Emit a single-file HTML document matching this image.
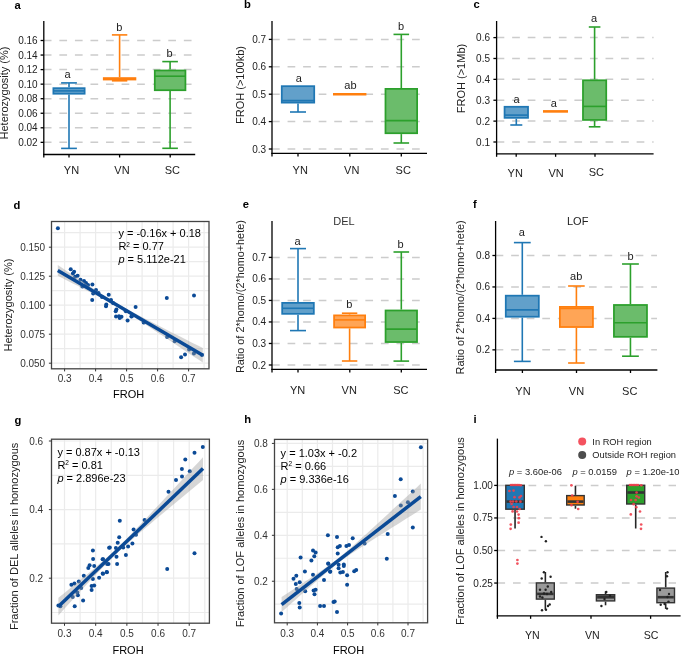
<!DOCTYPE html>
<html><head><meta charset="utf-8"><style>
html,body{margin:0;padding:0;background:#fff;}
svg{display:block;will-change:transform;font-family:"Liberation Sans", sans-serif;}
</style></head><body>
<svg width="685" height="655" viewBox="0 0 685 655">
<rect width="685" height="655" fill="#fff"/>
<text x="14.50" y="8.80" font-size="11.2" text-anchor="start" fill="#000" font-weight="bold" >a</text>
<line x1="43.80" y1="142.35" x2="191.80" y2="142.35" stroke="#cccccc" stroke-width="1.5" stroke-dasharray="7.7 7.86"/>
<line x1="43.80" y1="127.80" x2="191.80" y2="127.80" stroke="#cccccc" stroke-width="1.5" stroke-dasharray="7.7 7.86"/>
<line x1="43.80" y1="113.25" x2="191.80" y2="113.25" stroke="#cccccc" stroke-width="1.5" stroke-dasharray="7.7 7.86"/>
<line x1="43.80" y1="98.70" x2="191.80" y2="98.70" stroke="#cccccc" stroke-width="1.5" stroke-dasharray="7.7 7.86"/>
<line x1="43.80" y1="84.15" x2="191.80" y2="84.15" stroke="#cccccc" stroke-width="1.5" stroke-dasharray="7.7 7.86"/>
<line x1="43.80" y1="69.60" x2="191.80" y2="69.60" stroke="#cccccc" stroke-width="1.5" stroke-dasharray="7.7 7.86"/>
<line x1="43.80" y1="55.05" x2="191.80" y2="55.05" stroke="#cccccc" stroke-width="1.5" stroke-dasharray="7.7 7.86"/>
<line x1="43.80" y1="40.50" x2="191.80" y2="40.50" stroke="#cccccc" stroke-width="1.5" stroke-dasharray="7.7 7.86"/>
<line x1="43.80" y1="21.00" x2="43.80" y2="155.10" stroke="#000" stroke-width="1.3" />
<line x1="43.15" y1="154.50" x2="195.20" y2="154.50" stroke="#000" stroke-width="1.3" />
<line x1="43.80" y1="154.50" x2="43.80" y2="157.50" stroke="#000" stroke-width="1.3" />
<line x1="40.60" y1="142.35" x2="43.80" y2="142.35" stroke="#000" stroke-width="1.3" />
<text x="37.60" y="145.85" font-size="10" text-anchor="end" fill="#222" font-weight="normal" >0.02</text>
<line x1="40.60" y1="127.80" x2="43.80" y2="127.80" stroke="#000" stroke-width="1.3" />
<text x="37.60" y="131.30" font-size="10" text-anchor="end" fill="#222" font-weight="normal" >0.04</text>
<line x1="40.60" y1="113.25" x2="43.80" y2="113.25" stroke="#000" stroke-width="1.3" />
<text x="37.60" y="116.75" font-size="10" text-anchor="end" fill="#222" font-weight="normal" >0.06</text>
<line x1="40.60" y1="98.70" x2="43.80" y2="98.70" stroke="#000" stroke-width="1.3" />
<text x="37.60" y="102.20" font-size="10" text-anchor="end" fill="#222" font-weight="normal" >0.08</text>
<line x1="40.60" y1="84.15" x2="43.80" y2="84.15" stroke="#000" stroke-width="1.3" />
<text x="37.60" y="87.65" font-size="10" text-anchor="end" fill="#222" font-weight="normal" >0.10</text>
<line x1="40.60" y1="69.60" x2="43.80" y2="69.60" stroke="#000" stroke-width="1.3" />
<text x="37.60" y="73.10" font-size="10" text-anchor="end" fill="#222" font-weight="normal" >0.12</text>
<line x1="40.60" y1="55.05" x2="43.80" y2="55.05" stroke="#000" stroke-width="1.3" />
<text x="37.60" y="58.55" font-size="10" text-anchor="end" fill="#222" font-weight="normal" >0.14</text>
<line x1="40.60" y1="40.50" x2="43.80" y2="40.50" stroke="#000" stroke-width="1.3" />
<text x="37.60" y="44.00" font-size="10" text-anchor="end" fill="#222" font-weight="normal" >0.16</text>
<line x1="69.00" y1="154.50" x2="69.00" y2="157.50" stroke="#000" stroke-width="1.3" />
<text x="71.50" y="174.20" font-size="11" text-anchor="middle" fill="#222" font-weight="normal" >YN</text>
<line x1="119.60" y1="154.50" x2="119.60" y2="157.50" stroke="#000" stroke-width="1.3" />
<text x="122.00" y="174.20" font-size="11" text-anchor="middle" fill="#222" font-weight="normal" >VN</text>
<line x1="170.20" y1="154.50" x2="170.20" y2="157.50" stroke="#000" stroke-width="1.3" />
<text x="172.30" y="174.20" font-size="11" text-anchor="middle" fill="#222" font-weight="normal" >SC</text>
<text transform="translate(7.90,93.00) rotate(-90)" font-size="11" text-anchor="middle" fill="#222">Heterozygosity (%)</text>
<line x1="69.00" y1="82.90" x2="69.00" y2="87.30" stroke="#1f77b4" stroke-width="1.6" />
<line x1="61.10" y1="82.90" x2="76.90" y2="82.90" stroke="#1f77b4" stroke-width="1.6" />
<line x1="69.00" y1="94.60" x2="69.00" y2="148.40" stroke="#1f77b4" stroke-width="1.6" />
<line x1="61.10" y1="148.40" x2="76.90" y2="148.40" stroke="#1f77b4" stroke-width="1.6" />
<rect x="53.38" y="88.17" width="31.25" height="5.55" fill="#62a0ca" stroke="#1f77b4" stroke-width="1.75" />
<line x1="53.38" y1="90.90" x2="84.62" y2="90.90" stroke="#1f77b4" stroke-width="1.6" />
<line x1="119.60" y1="34.90" x2="119.60" y2="77.20" stroke="#ff7f0e" stroke-width="1.6" />
<line x1="111.90" y1="34.90" x2="127.30" y2="34.90" stroke="#ff7f0e" stroke-width="1.6" />
<line x1="119.60" y1="80.40" x2="119.60" y2="80.80" stroke="#ff7f0e" stroke-width="1.6" />
<line x1="111.90" y1="80.80" x2="127.30" y2="80.80" stroke="#ff7f0e" stroke-width="1.6" />
<rect x="103.77" y="78.08" width="31.65" height="1.45" fill="#ffa556" stroke="#ff7f0e" stroke-width="1.75" />
<line x1="103.77" y1="78.80" x2="135.42" y2="78.80" stroke="#ff7f0e" stroke-width="1.6" />
<line x1="170.10" y1="61.60" x2="170.10" y2="69.60" stroke="#2ca02c" stroke-width="1.6" />
<line x1="162.30" y1="61.60" x2="177.90" y2="61.60" stroke="#2ca02c" stroke-width="1.6" />
<line x1="170.10" y1="91.10" x2="170.10" y2="148.30" stroke="#2ca02c" stroke-width="1.6" />
<line x1="162.30" y1="148.30" x2="177.90" y2="148.30" stroke="#2ca02c" stroke-width="1.6" />
<rect x="154.78" y="70.47" width="30.65" height="19.75" fill="#6bbc6b" stroke="#2ca02c" stroke-width="1.75" />
<line x1="154.78" y1="76.20" x2="185.42" y2="76.20" stroke="#2ca02c" stroke-width="1.6" />
<text x="67.50" y="78.10" font-size="11" text-anchor="middle" fill="#222" font-weight="normal" >a</text>
<text x="119.40" y="31.40" font-size="11" text-anchor="middle" fill="#222" font-weight="normal" >b</text>
<text x="169.60" y="56.60" font-size="11" text-anchor="middle" fill="#222" font-weight="normal" >b</text>
<text x="244.00" y="7.90" font-size="11.2" text-anchor="start" fill="#000" font-weight="bold" >b</text>
<line x1="272.00" y1="149.00" x2="420.00" y2="149.00" stroke="#cccccc" stroke-width="1.5" stroke-dasharray="7.7 7.86"/>
<line x1="272.00" y1="121.60" x2="420.00" y2="121.60" stroke="#cccccc" stroke-width="1.5" stroke-dasharray="7.7 7.86"/>
<line x1="272.00" y1="94.20" x2="420.00" y2="94.20" stroke="#cccccc" stroke-width="1.5" stroke-dasharray="7.7 7.86"/>
<line x1="272.00" y1="66.80" x2="420.00" y2="66.80" stroke="#cccccc" stroke-width="1.5" stroke-dasharray="7.7 7.86"/>
<line x1="272.00" y1="39.40" x2="420.00" y2="39.40" stroke="#cccccc" stroke-width="1.5" stroke-dasharray="7.7 7.86"/>
<line x1="272.00" y1="21.00" x2="272.00" y2="154.00" stroke="#000" stroke-width="1.3" />
<line x1="271.35" y1="153.40" x2="427.00" y2="153.40" stroke="#000" stroke-width="1.3" />
<line x1="272.00" y1="153.40" x2="272.00" y2="156.40" stroke="#000" stroke-width="1.3" />
<line x1="268.80" y1="149.00" x2="272.00" y2="149.00" stroke="#000" stroke-width="1.3" />
<text x="266.20" y="152.50" font-size="10" text-anchor="end" fill="#222" font-weight="normal" >0.3</text>
<line x1="268.80" y1="121.60" x2="272.00" y2="121.60" stroke="#000" stroke-width="1.3" />
<text x="266.20" y="125.10" font-size="10" text-anchor="end" fill="#222" font-weight="normal" >0.4</text>
<line x1="268.80" y1="94.20" x2="272.00" y2="94.20" stroke="#000" stroke-width="1.3" />
<text x="266.20" y="97.70" font-size="10" text-anchor="end" fill="#222" font-weight="normal" >0.5</text>
<line x1="268.80" y1="66.80" x2="272.00" y2="66.80" stroke="#000" stroke-width="1.3" />
<text x="266.20" y="70.30" font-size="10" text-anchor="end" fill="#222" font-weight="normal" >0.6</text>
<line x1="268.80" y1="39.40" x2="272.00" y2="39.40" stroke="#000" stroke-width="1.3" />
<text x="266.20" y="42.90" font-size="10" text-anchor="end" fill="#222" font-weight="normal" >0.7</text>
<line x1="298.00" y1="153.40" x2="298.00" y2="156.40" stroke="#000" stroke-width="1.3" />
<text x="300.20" y="174.40" font-size="11" text-anchor="middle" fill="#222" font-weight="normal" >YN</text>
<line x1="349.80" y1="153.40" x2="349.80" y2="156.40" stroke="#000" stroke-width="1.3" />
<text x="351.70" y="174.40" font-size="11" text-anchor="middle" fill="#222" font-weight="normal" >VN</text>
<line x1="401.30" y1="153.40" x2="401.30" y2="156.40" stroke="#000" stroke-width="1.3" />
<text x="403.20" y="174.40" font-size="11" text-anchor="middle" fill="#222" font-weight="normal" >SC</text>
<text transform="translate(243.50,85.00) rotate(-90)" font-size="11" text-anchor="middle" fill="#222">FROH (&gt;100kb)</text>
<line x1="298.00" y1="103.50" x2="298.00" y2="112.00" stroke="#1f77b4" stroke-width="1.6" />
<line x1="290.00" y1="112.00" x2="306.00" y2="112.00" stroke="#1f77b4" stroke-width="1.6" />
<rect x="281.77" y="86.17" width="32.45" height="16.45" fill="#62a0ca" stroke="#1f77b4" stroke-width="1.75" />
<line x1="281.77" y1="100.60" x2="314.23" y2="100.60" stroke="#1f77b4" stroke-width="1.6" />
<line x1="333.00" y1="94.20" x2="366.40" y2="94.20" stroke="#ff7f0e" stroke-width="2.6" />
<line x1="401.30" y1="34.40" x2="401.30" y2="88.00" stroke="#2ca02c" stroke-width="1.6" />
<line x1="393.50" y1="34.40" x2="409.10" y2="34.40" stroke="#2ca02c" stroke-width="1.6" />
<line x1="401.30" y1="134.10" x2="401.30" y2="143.00" stroke="#2ca02c" stroke-width="1.6" />
<line x1="393.50" y1="143.00" x2="409.10" y2="143.00" stroke="#2ca02c" stroke-width="1.6" />
<rect x="385.48" y="88.88" width="31.65" height="44.35" fill="#6bbc6b" stroke="#2ca02c" stroke-width="1.75" />
<line x1="385.48" y1="120.60" x2="417.12" y2="120.60" stroke="#2ca02c" stroke-width="1.6" />
<text x="298.80" y="82.20" font-size="11" text-anchor="middle" fill="#222" font-weight="normal" >a</text>
<text x="350.40" y="89.00" font-size="11" text-anchor="middle" fill="#222" font-weight="normal" >ab</text>
<text x="401.00" y="30.00" font-size="11" text-anchor="middle" fill="#222" font-weight="normal" >b</text>
<text x="473.50" y="7.90" font-size="11.2" text-anchor="start" fill="#000" font-weight="bold" >c</text>
<line x1="496.60" y1="142.00" x2="653.60" y2="142.00" stroke="#cccccc" stroke-width="1.5" stroke-dasharray="7.7 7.86"/>
<line x1="496.60" y1="121.12" x2="653.60" y2="121.12" stroke="#cccccc" stroke-width="1.5" stroke-dasharray="7.7 7.86"/>
<line x1="496.60" y1="100.24" x2="653.60" y2="100.24" stroke="#cccccc" stroke-width="1.5" stroke-dasharray="7.7 7.86"/>
<line x1="496.60" y1="79.36" x2="653.60" y2="79.36" stroke="#cccccc" stroke-width="1.5" stroke-dasharray="7.7 7.86"/>
<line x1="496.60" y1="58.48" x2="653.60" y2="58.48" stroke="#cccccc" stroke-width="1.5" stroke-dasharray="7.7 7.86"/>
<line x1="496.60" y1="37.60" x2="653.60" y2="37.60" stroke="#cccccc" stroke-width="1.5" stroke-dasharray="7.7 7.86"/>
<line x1="496.60" y1="21.00" x2="496.60" y2="154.40" stroke="#000" stroke-width="1.3" />
<line x1="495.95" y1="153.80" x2="653.60" y2="153.80" stroke="#000" stroke-width="1.3" />
<line x1="496.60" y1="153.80" x2="496.60" y2="156.80" stroke="#000" stroke-width="1.3" />
<line x1="493.40" y1="142.00" x2="496.60" y2="142.00" stroke="#000" stroke-width="1.3" />
<text x="490.00" y="145.50" font-size="10" text-anchor="end" fill="#222" font-weight="normal" >0.1</text>
<line x1="493.40" y1="121.12" x2="496.60" y2="121.12" stroke="#000" stroke-width="1.3" />
<text x="490.00" y="124.62" font-size="10" text-anchor="end" fill="#222" font-weight="normal" >0.2</text>
<line x1="493.40" y1="100.24" x2="496.60" y2="100.24" stroke="#000" stroke-width="1.3" />
<text x="490.00" y="103.74" font-size="10" text-anchor="end" fill="#222" font-weight="normal" >0.3</text>
<line x1="493.40" y1="79.36" x2="496.60" y2="79.36" stroke="#000" stroke-width="1.3" />
<text x="490.00" y="82.86" font-size="10" text-anchor="end" fill="#222" font-weight="normal" >0.4</text>
<line x1="493.40" y1="58.48" x2="496.60" y2="58.48" stroke="#000" stroke-width="1.3" />
<text x="490.00" y="61.98" font-size="10" text-anchor="end" fill="#222" font-weight="normal" >0.5</text>
<line x1="493.40" y1="37.60" x2="496.60" y2="37.60" stroke="#000" stroke-width="1.3" />
<text x="490.00" y="41.10" font-size="10" text-anchor="end" fill="#222" font-weight="normal" >0.6</text>
<line x1="516.20" y1="153.80" x2="516.20" y2="156.80" stroke="#000" stroke-width="1.3" />
<text x="515.20" y="176.60" font-size="11" text-anchor="middle" fill="#222" font-weight="normal" >YN</text>
<line x1="555.60" y1="153.80" x2="555.60" y2="156.80" stroke="#000" stroke-width="1.3" />
<text x="556.10" y="176.60" font-size="11" text-anchor="middle" fill="#222" font-weight="normal" >VN</text>
<line x1="595.00" y1="153.80" x2="595.00" y2="156.80" stroke="#000" stroke-width="1.3" />
<text x="596.40" y="175.80" font-size="11" text-anchor="middle" fill="#222" font-weight="normal" >SC</text>
<text transform="translate(465.00,78.50) rotate(-90)" font-size="11" text-anchor="middle" fill="#222">FROH (&gt;1Mb)</text>
<line x1="516.30" y1="118.70" x2="516.30" y2="125.00" stroke="#1f77b4" stroke-width="1.6" />
<line x1="510.30" y1="125.00" x2="522.30" y2="125.00" stroke="#1f77b4" stroke-width="1.6" />
<rect x="504.57" y="106.78" width="23.45" height="11.05" fill="#62a0ca" stroke="#1f77b4" stroke-width="1.75" />
<line x1="504.57" y1="115.10" x2="528.02" y2="115.10" stroke="#1f77b4" stroke-width="1.6" />
<line x1="543.00" y1="111.40" x2="568.00" y2="111.40" stroke="#ff7f0e" stroke-width="2.6" />
<line x1="594.60" y1="27.00" x2="594.60" y2="79.40" stroke="#2ca02c" stroke-width="1.6" />
<line x1="588.80" y1="27.00" x2="600.40" y2="27.00" stroke="#2ca02c" stroke-width="1.6" />
<line x1="594.60" y1="120.80" x2="594.60" y2="126.80" stroke="#2ca02c" stroke-width="1.6" />
<line x1="588.80" y1="126.80" x2="600.40" y2="126.80" stroke="#2ca02c" stroke-width="1.6" />
<rect x="582.98" y="80.28" width="23.25" height="39.65" fill="#6bbc6b" stroke="#2ca02c" stroke-width="1.75" />
<line x1="582.98" y1="106.40" x2="606.23" y2="106.40" stroke="#2ca02c" stroke-width="1.6" />
<text x="516.60" y="103.00" font-size="11" text-anchor="middle" fill="#222" font-weight="normal" >a</text>
<text x="553.70" y="107.00" font-size="11" text-anchor="middle" fill="#222" font-weight="normal" >a</text>
<text x="594.00" y="22.40" font-size="11" text-anchor="middle" fill="#222" font-weight="normal" >a</text>
<text x="242.70" y="208.30" font-size="11.2" text-anchor="start" fill="#000" font-weight="bold" >e</text>
<line x1="272.00" y1="365.00" x2="420.00" y2="365.00" stroke="#cccccc" stroke-width="1.5" stroke-dasharray="7.7 7.86"/>
<line x1="272.00" y1="343.48" x2="420.00" y2="343.48" stroke="#cccccc" stroke-width="1.5" stroke-dasharray="7.7 7.86"/>
<line x1="272.00" y1="321.96" x2="420.00" y2="321.96" stroke="#cccccc" stroke-width="1.5" stroke-dasharray="7.7 7.86"/>
<line x1="272.00" y1="300.44" x2="420.00" y2="300.44" stroke="#cccccc" stroke-width="1.5" stroke-dasharray="7.7 7.86"/>
<line x1="272.00" y1="278.92" x2="420.00" y2="278.92" stroke="#cccccc" stroke-width="1.5" stroke-dasharray="7.7 7.86"/>
<line x1="272.00" y1="257.40" x2="420.00" y2="257.40" stroke="#cccccc" stroke-width="1.5" stroke-dasharray="7.7 7.86"/>
<line x1="272.00" y1="221.00" x2="272.00" y2="370.00" stroke="#000" stroke-width="1.3" />
<line x1="271.35" y1="369.40" x2="427.00" y2="369.40" stroke="#000" stroke-width="1.3" />
<line x1="272.00" y1="369.40" x2="272.00" y2="372.40" stroke="#000" stroke-width="1.3" />
<line x1="268.80" y1="365.00" x2="272.00" y2="365.00" stroke="#000" stroke-width="1.3" />
<text x="266.20" y="368.50" font-size="10" text-anchor="end" fill="#222" font-weight="normal" >0.2</text>
<line x1="268.80" y1="343.48" x2="272.00" y2="343.48" stroke="#000" stroke-width="1.3" />
<text x="266.20" y="346.98" font-size="10" text-anchor="end" fill="#222" font-weight="normal" >0.3</text>
<line x1="268.80" y1="321.96" x2="272.00" y2="321.96" stroke="#000" stroke-width="1.3" />
<text x="266.20" y="325.46" font-size="10" text-anchor="end" fill="#222" font-weight="normal" >0.4</text>
<line x1="268.80" y1="300.44" x2="272.00" y2="300.44" stroke="#000" stroke-width="1.3" />
<text x="266.20" y="303.94" font-size="10" text-anchor="end" fill="#222" font-weight="normal" >0.5</text>
<line x1="268.80" y1="278.92" x2="272.00" y2="278.92" stroke="#000" stroke-width="1.3" />
<text x="266.20" y="282.42" font-size="10" text-anchor="end" fill="#222" font-weight="normal" >0.6</text>
<line x1="268.80" y1="257.40" x2="272.00" y2="257.40" stroke="#000" stroke-width="1.3" />
<text x="266.20" y="260.90" font-size="10" text-anchor="end" fill="#222" font-weight="normal" >0.7</text>
<line x1="298.00" y1="369.40" x2="298.00" y2="372.40" stroke="#000" stroke-width="1.3" />
<text x="297.60" y="394.40" font-size="11" text-anchor="middle" fill="#222" font-weight="normal" >YN</text>
<line x1="349.80" y1="369.40" x2="349.80" y2="372.40" stroke="#000" stroke-width="1.3" />
<text x="349.20" y="394.40" font-size="11" text-anchor="middle" fill="#222" font-weight="normal" >VN</text>
<line x1="401.30" y1="369.40" x2="401.30" y2="372.40" stroke="#000" stroke-width="1.3" />
<text x="400.90" y="394.40" font-size="11" text-anchor="middle" fill="#222" font-weight="normal" >SC</text>
<text transform="translate(243.90,296.60) rotate(-90)" font-size="10.85" text-anchor="middle" fill="#222">Ratio of 2*homo/(2*homo+hete)</text>
<text x="344.00" y="225.00" font-size="11" text-anchor="middle" fill="#333" font-weight="normal" >DEL</text>
<line x1="298.00" y1="248.60" x2="298.00" y2="302.00" stroke="#1f77b4" stroke-width="1.6" />
<line x1="290.00" y1="248.60" x2="306.00" y2="248.60" stroke="#1f77b4" stroke-width="1.6" />
<line x1="298.00" y1="314.70" x2="298.00" y2="330.60" stroke="#1f77b4" stroke-width="1.6" />
<line x1="290.00" y1="330.60" x2="306.00" y2="330.60" stroke="#1f77b4" stroke-width="1.6" />
<rect x="282.18" y="302.88" width="31.65" height="10.95" fill="#62a0ca" stroke="#1f77b4" stroke-width="1.75" />
<line x1="282.18" y1="308.30" x2="313.82" y2="308.30" stroke="#1f77b4" stroke-width="1.6" />
<line x1="349.60" y1="313.20" x2="349.60" y2="314.50" stroke="#ff7f0e" stroke-width="1.6" />
<line x1="341.90" y1="313.20" x2="357.30" y2="313.20" stroke="#ff7f0e" stroke-width="1.6" />
<line x1="349.60" y1="328.40" x2="349.60" y2="361.00" stroke="#ff7f0e" stroke-width="1.6" />
<line x1="341.90" y1="361.00" x2="357.30" y2="361.00" stroke="#ff7f0e" stroke-width="1.6" />
<rect x="334.08" y="315.38" width="31.05" height="12.15" fill="#ffa556" stroke="#ff7f0e" stroke-width="1.75" />
<line x1="334.08" y1="319.90" x2="365.12" y2="319.90" stroke="#ff7f0e" stroke-width="1.6" />
<line x1="401.30" y1="252.00" x2="401.30" y2="309.60" stroke="#2ca02c" stroke-width="1.6" />
<line x1="393.50" y1="252.00" x2="409.10" y2="252.00" stroke="#2ca02c" stroke-width="1.6" />
<line x1="401.30" y1="342.90" x2="401.30" y2="361.10" stroke="#2ca02c" stroke-width="1.6" />
<line x1="393.50" y1="361.10" x2="409.10" y2="361.10" stroke="#2ca02c" stroke-width="1.6" />
<rect x="385.57" y="310.48" width="31.45" height="31.55" fill="#6bbc6b" stroke="#2ca02c" stroke-width="1.75" />
<line x1="385.57" y1="329.10" x2="417.03" y2="329.10" stroke="#2ca02c" stroke-width="1.6" />
<text x="297.50" y="245.00" font-size="11" text-anchor="middle" fill="#222" font-weight="normal" >a</text>
<text x="349.30" y="308.00" font-size="11" text-anchor="middle" fill="#222" font-weight="normal" >b</text>
<text x="400.60" y="248.00" font-size="11" text-anchor="middle" fill="#222" font-weight="normal" >b</text>
<text x="472.90" y="208.10" font-size="11.2" text-anchor="start" fill="#000" font-weight="bold" >f</text>
<line x1="495.60" y1="349.85" x2="657.00" y2="349.85" stroke="#cccccc" stroke-width="1.5" stroke-dasharray="7.7 7.86"/>
<line x1="495.60" y1="318.40" x2="657.00" y2="318.40" stroke="#cccccc" stroke-width="1.5" stroke-dasharray="7.7 7.86"/>
<line x1="495.60" y1="286.95" x2="657.00" y2="286.95" stroke="#cccccc" stroke-width="1.5" stroke-dasharray="7.7 7.86"/>
<line x1="495.60" y1="255.50" x2="657.00" y2="255.50" stroke="#cccccc" stroke-width="1.5" stroke-dasharray="7.7 7.86"/>
<line x1="495.60" y1="221.00" x2="495.60" y2="370.60" stroke="#000" stroke-width="1.3" />
<line x1="494.95" y1="370.00" x2="657.40" y2="370.00" stroke="#000" stroke-width="1.3" />
<line x1="495.60" y1="370.00" x2="495.60" y2="373.00" stroke="#000" stroke-width="1.3" />
<line x1="492.40" y1="349.85" x2="495.60" y2="349.85" stroke="#000" stroke-width="1.3" />
<text x="490.00" y="353.35" font-size="10" text-anchor="end" fill="#222" font-weight="normal" >0.2</text>
<line x1="492.40" y1="318.40" x2="495.60" y2="318.40" stroke="#000" stroke-width="1.3" />
<text x="490.00" y="321.90" font-size="10" text-anchor="end" fill="#222" font-weight="normal" >0.4</text>
<line x1="492.40" y1="286.95" x2="495.60" y2="286.95" stroke="#000" stroke-width="1.3" />
<text x="490.00" y="290.45" font-size="10" text-anchor="end" fill="#222" font-weight="normal" >0.6</text>
<line x1="492.40" y1="255.50" x2="495.60" y2="255.50" stroke="#000" stroke-width="1.3" />
<text x="490.00" y="259.00" font-size="10" text-anchor="end" fill="#222" font-weight="normal" >0.8</text>
<line x1="522.40" y1="370.00" x2="522.40" y2="373.00" stroke="#000" stroke-width="1.3" />
<text x="523.00" y="394.60" font-size="11" text-anchor="middle" fill="#222" font-weight="normal" >YN</text>
<line x1="576.50" y1="370.00" x2="576.50" y2="373.00" stroke="#000" stroke-width="1.3" />
<text x="576.50" y="394.60" font-size="11" text-anchor="middle" fill="#222" font-weight="normal" >VN</text>
<line x1="630.50" y1="370.00" x2="630.50" y2="373.00" stroke="#000" stroke-width="1.3" />
<text x="629.70" y="394.60" font-size="11" text-anchor="middle" fill="#222" font-weight="normal" >SC</text>
<text transform="translate(464.30,297.40) rotate(-90)" font-size="10.95" text-anchor="middle" fill="#222">Ratio of 2*homo/(2*homo+hete)</text>
<text x="577.70" y="225.00" font-size="11" text-anchor="middle" fill="#222" font-weight="normal" >LOF</text>
<line x1="522.30" y1="242.60" x2="522.30" y2="294.80" stroke="#1f77b4" stroke-width="1.6" />
<line x1="513.90" y1="242.60" x2="530.70" y2="242.60" stroke="#1f77b4" stroke-width="1.6" />
<line x1="522.30" y1="317.60" x2="522.30" y2="361.40" stroke="#1f77b4" stroke-width="1.6" />
<line x1="513.90" y1="361.40" x2="530.70" y2="361.40" stroke="#1f77b4" stroke-width="1.6" />
<rect x="505.77" y="295.68" width="33.05" height="21.05" fill="#62a0ca" stroke="#1f77b4" stroke-width="1.75" />
<line x1="505.77" y1="309.90" x2="538.82" y2="309.90" stroke="#1f77b4" stroke-width="1.6" />
<line x1="576.40" y1="286.00" x2="576.40" y2="306.00" stroke="#ff7f0e" stroke-width="1.6" />
<line x1="568.10" y1="286.00" x2="584.70" y2="286.00" stroke="#ff7f0e" stroke-width="1.6" />
<line x1="576.40" y1="327.90" x2="576.40" y2="363.00" stroke="#ff7f0e" stroke-width="1.6" />
<line x1="568.10" y1="363.00" x2="584.70" y2="363.00" stroke="#ff7f0e" stroke-width="1.6" />
<rect x="559.88" y="306.88" width="33.05" height="20.15" fill="#ffa556" stroke="#ff7f0e" stroke-width="1.75" />
<line x1="559.88" y1="308.50" x2="592.92" y2="308.50" stroke="#ff7f0e" stroke-width="1.6" />
<line x1="630.45" y1="264.00" x2="630.45" y2="304.10" stroke="#2ca02c" stroke-width="1.6" />
<line x1="622.05" y1="264.00" x2="638.85" y2="264.00" stroke="#2ca02c" stroke-width="1.6" />
<line x1="630.45" y1="337.70" x2="630.45" y2="356.20" stroke="#2ca02c" stroke-width="1.6" />
<line x1="622.05" y1="356.20" x2="638.85" y2="356.20" stroke="#2ca02c" stroke-width="1.6" />
<rect x="613.93" y="304.98" width="33.05" height="31.85" fill="#6bbc6b" stroke="#2ca02c" stroke-width="1.75" />
<line x1="613.93" y1="322.80" x2="646.98" y2="322.80" stroke="#2ca02c" stroke-width="1.6" />
<text x="521.80" y="236.00" font-size="11" text-anchor="middle" fill="#222" font-weight="normal" >a</text>
<text x="576.20" y="280.00" font-size="11" text-anchor="middle" fill="#222" font-weight="normal" >ab</text>
<text x="630.50" y="260.00" font-size="11" text-anchor="middle" fill="#222" font-weight="normal" >b</text>
<text x="13.60" y="209.40" font-size="11.2" text-anchor="start" fill="#000" font-weight="bold" >d</text>
<line x1="80.10" y1="221.50" x2="80.10" y2="368.80" stroke="#ebebeb" stroke-width="1.2" />
<line x1="111.10" y1="221.50" x2="111.10" y2="368.80" stroke="#ebebeb" stroke-width="1.2" />
<line x1="142.10" y1="221.50" x2="142.10" y2="368.80" stroke="#ebebeb" stroke-width="1.2" />
<line x1="173.10" y1="221.50" x2="173.10" y2="368.80" stroke="#ebebeb" stroke-width="1.2" />
<line x1="204.10" y1="221.50" x2="204.10" y2="368.80" stroke="#ebebeb" stroke-width="1.2" />
<line x1="51.50" y1="348.70" x2="209.00" y2="348.70" stroke="#ebebeb" stroke-width="1.2" />
<line x1="51.50" y1="319.70" x2="209.00" y2="319.70" stroke="#ebebeb" stroke-width="1.2" />
<line x1="51.50" y1="290.70" x2="209.00" y2="290.70" stroke="#ebebeb" stroke-width="1.2" />
<line x1="51.50" y1="261.70" x2="209.00" y2="261.70" stroke="#ebebeb" stroke-width="1.2" />
<line x1="51.50" y1="232.70" x2="209.00" y2="232.70" stroke="#ebebeb" stroke-width="1.2" />
<line x1="64.60" y1="221.50" x2="64.60" y2="368.80" stroke="#ebebeb" stroke-width="1.2" />
<line x1="95.60" y1="221.50" x2="95.60" y2="368.80" stroke="#ebebeb" stroke-width="1.2" />
<line x1="126.60" y1="221.50" x2="126.60" y2="368.80" stroke="#ebebeb" stroke-width="1.2" />
<line x1="157.60" y1="221.50" x2="157.60" y2="368.80" stroke="#ebebeb" stroke-width="1.2" />
<line x1="188.60" y1="221.50" x2="188.60" y2="368.80" stroke="#ebebeb" stroke-width="1.2" />
<line x1="51.50" y1="363.20" x2="209.00" y2="363.20" stroke="#ebebeb" stroke-width="1.2" />
<line x1="51.50" y1="334.20" x2="209.00" y2="334.20" stroke="#ebebeb" stroke-width="1.2" />
<line x1="51.50" y1="305.20" x2="209.00" y2="305.20" stroke="#ebebeb" stroke-width="1.2" />
<line x1="51.50" y1="276.20" x2="209.00" y2="276.20" stroke="#ebebeb" stroke-width="1.2" />
<line x1="51.50" y1="247.20" x2="209.00" y2="247.20" stroke="#ebebeb" stroke-width="1.2" />
<circle cx="57.90" cy="228.20" r="2.0" fill="#0b4a96" />
<circle cx="70.70" cy="269.30" r="2.0" fill="#0b4a96" />
<circle cx="74.10" cy="271.70" r="2.0" fill="#0b4a96" />
<circle cx="72.90" cy="273.50" r="2.0" fill="#0b4a96" />
<circle cx="77.60" cy="275.70" r="2.0" fill="#0b4a96" />
<circle cx="75.10" cy="276.80" r="2.0" fill="#0b4a96" />
<circle cx="80.50" cy="279.70" r="2.0" fill="#0b4a96" />
<circle cx="82.40" cy="286.50" r="2.0" fill="#0b4a96" />
<circle cx="92.40" cy="284.50" r="2.0" fill="#0b4a96" />
<circle cx="93.20" cy="293.50" r="2.0" fill="#0b4a96" />
<circle cx="92.20" cy="300.10" r="2.0" fill="#0b4a96" />
<circle cx="98.50" cy="293.00" r="2.0" fill="#0b4a96" />
<circle cx="102.00" cy="297.00" r="2.0" fill="#0b4a96" />
<circle cx="108.70" cy="294.80" r="2.0" fill="#0b4a96" />
<circle cx="106.30" cy="304.60" r="2.0" fill="#0b4a96" />
<circle cx="106.00" cy="306.20" r="2.0" fill="#0b4a96" />
<circle cx="116.40" cy="309.50" r="2.0" fill="#0b4a96" />
<circle cx="115.70" cy="311.30" r="2.0" fill="#0b4a96" />
<circle cx="116.00" cy="316.40" r="2.0" fill="#0b4a96" />
<circle cx="119.00" cy="316.20" r="2.0" fill="#0b4a96" />
<circle cx="121.50" cy="316.80" r="2.0" fill="#0b4a96" />
<circle cx="119.70" cy="318.00" r="2.0" fill="#0b4a96" />
<circle cx="127.60" cy="320.40" r="2.0" fill="#0b4a96" />
<circle cx="135.60" cy="307.00" r="2.0" fill="#0b4a96" />
<circle cx="125.80" cy="311.30" r="2.0" fill="#0b4a96" />
<circle cx="131.90" cy="316.20" r="2.0" fill="#0b4a96" />
<circle cx="144.10" cy="322.30" r="2.0" fill="#0b4a96" />
<circle cx="131.40" cy="316.40" r="2.0" fill="#0b4a96" />
<circle cx="143.70" cy="322.60" r="2.0" fill="#0b4a96" />
<circle cx="166.80" cy="298.10" r="2.0" fill="#0b4a96" />
<circle cx="194.00" cy="295.50" r="2.0" fill="#0b4a96" />
<circle cx="167.10" cy="337.00" r="2.0" fill="#0b4a96" />
<circle cx="174.70" cy="341.20" r="2.0" fill="#0b4a96" />
<circle cx="181.10" cy="357.30" r="2.0" fill="#0b4a96" />
<circle cx="185.00" cy="354.60" r="2.0" fill="#0b4a96" />
<circle cx="189.10" cy="349.40" r="2.0" fill="#0b4a96" />
<circle cx="193.90" cy="353.50" r="2.0" fill="#0b4a96" />
<circle cx="202.00" cy="355.00" r="2.0" fill="#0b4a96" />
<circle cx="86.00" cy="283.00" r="2.0" fill="#0b4a96" />
<circle cx="88.00" cy="285.00" r="2.0" fill="#0b4a96" />
<circle cx="96.00" cy="290.00" r="2.0" fill="#0b4a96" />
<circle cx="111.00" cy="300.00" r="2.0" fill="#0b4a96" />
<circle cx="113.00" cy="303.00" r="2.0" fill="#0b4a96" />
<circle cx="84.00" cy="281.00" r="2.0" fill="#0b4a96" />
<path d="M57.80,265.00 L62.63,268.22 L67.47,271.44 L72.30,274.65 L77.13,277.85 L81.97,281.05 L86.80,284.24 L91.63,287.41 L96.47,290.57 L101.30,293.69 L106.13,296.78 L110.97,299.80 L115.80,302.74 L120.63,305.58 L125.47,308.32 L130.30,310.97 L135.13,313.56 L139.97,316.10 L144.80,318.61 L149.63,321.10 L154.47,323.57 L159.30,326.04 L164.13,328.49 L168.97,330.94 L173.80,333.39 L178.63,335.83 L183.47,338.27 L188.30,340.70 L193.13,343.14 L197.97,345.57 L202.80,348.00 L202.80,362.60 L197.97,359.37 L193.13,356.14 L188.30,352.92 L183.47,349.69 L178.63,346.47 L173.80,343.25 L168.97,340.04 L164.13,336.83 L159.30,333.62 L154.47,330.43 L149.63,327.24 L144.80,324.07 L139.97,320.92 L135.13,317.80 L130.30,314.73 L125.47,311.72 L120.63,308.80 L115.80,305.98 L110.97,303.26 L106.13,300.62 L101.30,298.05 L96.47,295.51 L91.63,293.01 L86.80,290.52 L81.97,288.05 L77.13,285.59 L72.30,283.13 L67.47,280.68 L62.63,278.24 L57.80,275.80 Z" fill="#999999" fill-opacity="0.4"/>
<line x1="57.80" y1="270.40" x2="202.80" y2="355.30" stroke="#0b4a96" stroke-width="3.5" stroke-linecap="butt"/>
<rect x="51.50" y="221.50" width="157.50" height="147.30" fill="none" stroke="#444444" stroke-width="1.3" />
<line x1="48.90" y1="363.20" x2="51.50" y2="363.20" stroke="#333333" stroke-width="1.0" />
<text x="45.20" y="366.70" font-size="10" text-anchor="end" fill="#333" font-weight="normal" >0.050</text>
<line x1="48.90" y1="334.20" x2="51.50" y2="334.20" stroke="#333333" stroke-width="1.0" />
<text x="45.20" y="337.70" font-size="10" text-anchor="end" fill="#333" font-weight="normal" >0.075</text>
<line x1="48.90" y1="305.20" x2="51.50" y2="305.20" stroke="#333333" stroke-width="1.0" />
<text x="45.20" y="308.70" font-size="10" text-anchor="end" fill="#333" font-weight="normal" >0.100</text>
<line x1="48.90" y1="276.20" x2="51.50" y2="276.20" stroke="#333333" stroke-width="1.0" />
<text x="45.20" y="279.70" font-size="10" text-anchor="end" fill="#333" font-weight="normal" >0.125</text>
<line x1="48.90" y1="247.20" x2="51.50" y2="247.20" stroke="#333333" stroke-width="1.0" />
<text x="45.20" y="250.70" font-size="10" text-anchor="end" fill="#333" font-weight="normal" >0.150</text>
<line x1="64.60" y1="368.80" x2="64.60" y2="371.40" stroke="#333333" stroke-width="1.0" />
<text x="64.60" y="381.60" font-size="10" text-anchor="middle" fill="#333" font-weight="normal" >0.3</text>
<line x1="95.60" y1="368.80" x2="95.60" y2="371.40" stroke="#333333" stroke-width="1.0" />
<text x="95.60" y="381.60" font-size="10" text-anchor="middle" fill="#333" font-weight="normal" >0.4</text>
<line x1="126.60" y1="368.80" x2="126.60" y2="371.40" stroke="#333333" stroke-width="1.0" />
<text x="126.60" y="381.60" font-size="10" text-anchor="middle" fill="#333" font-weight="normal" >0.5</text>
<line x1="157.60" y1="368.80" x2="157.60" y2="371.40" stroke="#333333" stroke-width="1.0" />
<text x="157.60" y="381.60" font-size="10" text-anchor="middle" fill="#333" font-weight="normal" >0.6</text>
<line x1="188.60" y1="368.80" x2="188.60" y2="371.40" stroke="#333333" stroke-width="1.0" />
<text x="188.60" y="381.60" font-size="10" text-anchor="middle" fill="#333" font-weight="normal" >0.7</text>
<text x="118.40" y="236.90" font-size="11" text-anchor="start" fill="#000" font-weight="normal" >y = -0.16x + 0.18</text>
<text x="118.40" y="250.10" font-size="11" text-anchor="start" fill="#000" font-weight="normal" >R<tspan font-size="6.5" dy="-3.6">2</tspan><tspan dy="3.6"> = 0.77</tspan></text>
<text x="118.40" y="263.30" font-size="11" text-anchor="start" fill="#000" font-weight="normal" ><tspan font-style="italic">p</tspan> = 5.112e-21</text>
<text x="128.65" y="398.30" font-size="11" text-anchor="middle" fill="#000" font-weight="normal" >FROH</text>
<text transform="translate(12.10,305.05) rotate(-90)" font-size="11" text-anchor="middle" fill="#222">Heterozygosity (%)</text>
<text x="14.60" y="424.40" font-size="11.2" text-anchor="start" fill="#000" font-weight="bold" >g</text>
<line x1="80.09" y1="439.20" x2="80.09" y2="623.20" stroke="#ebebeb" stroke-width="1.2" />
<line x1="111.27" y1="439.20" x2="111.27" y2="623.20" stroke="#ebebeb" stroke-width="1.2" />
<line x1="142.45" y1="439.20" x2="142.45" y2="623.20" stroke="#ebebeb" stroke-width="1.2" />
<line x1="173.63" y1="439.20" x2="173.63" y2="623.20" stroke="#ebebeb" stroke-width="1.2" />
<line x1="204.81" y1="439.20" x2="204.81" y2="623.20" stroke="#ebebeb" stroke-width="1.2" />
<line x1="51.50" y1="612.50" x2="209.40" y2="612.50" stroke="#ebebeb" stroke-width="1.2" />
<line x1="51.50" y1="543.90" x2="209.40" y2="543.90" stroke="#ebebeb" stroke-width="1.2" />
<line x1="51.50" y1="475.30" x2="209.40" y2="475.30" stroke="#ebebeb" stroke-width="1.2" />
<line x1="64.50" y1="439.20" x2="64.50" y2="623.20" stroke="#ebebeb" stroke-width="1.2" />
<line x1="95.68" y1="439.20" x2="95.68" y2="623.20" stroke="#ebebeb" stroke-width="1.2" />
<line x1="126.86" y1="439.20" x2="126.86" y2="623.20" stroke="#ebebeb" stroke-width="1.2" />
<line x1="158.04" y1="439.20" x2="158.04" y2="623.20" stroke="#ebebeb" stroke-width="1.2" />
<line x1="189.22" y1="439.20" x2="189.22" y2="623.20" stroke="#ebebeb" stroke-width="1.2" />
<line x1="51.50" y1="578.20" x2="209.40" y2="578.20" stroke="#ebebeb" stroke-width="1.2" />
<line x1="51.50" y1="509.60" x2="209.40" y2="509.60" stroke="#ebebeb" stroke-width="1.2" />
<line x1="51.50" y1="441.00" x2="209.40" y2="441.00" stroke="#ebebeb" stroke-width="1.2" />
<circle cx="58.40" cy="605.60" r="2.0" fill="#0b4a96" />
<circle cx="60.40" cy="606.20" r="2.0" fill="#0b4a96" />
<circle cx="74.70" cy="606.20" r="2.0" fill="#0b4a96" />
<circle cx="83.10" cy="600.40" r="2.0" fill="#0b4a96" />
<circle cx="71.40" cy="584.80" r="2.0" fill="#0b4a96" />
<circle cx="74.40" cy="583.50" r="2.0" fill="#0b4a96" />
<circle cx="78.80" cy="581.60" r="2.0" fill="#0b4a96" />
<circle cx="72.70" cy="597.10" r="2.0" fill="#0b4a96" />
<circle cx="77.90" cy="595.20" r="2.0" fill="#0b4a96" />
<circle cx="77.30" cy="592.60" r="2.0" fill="#0b4a96" />
<circle cx="81.20" cy="588.00" r="2.0" fill="#0b4a96" />
<circle cx="83.80" cy="575.70" r="2.0" fill="#0b4a96" />
<circle cx="88.30" cy="567.90" r="2.0" fill="#0b4a96" />
<circle cx="89.60" cy="565.30" r="2.0" fill="#0b4a96" />
<circle cx="94.20" cy="566.00" r="2.0" fill="#0b4a96" />
<circle cx="92.90" cy="550.40" r="2.0" fill="#0b4a96" />
<circle cx="93.10" cy="559.10" r="2.0" fill="#0b4a96" />
<circle cx="92.90" cy="579.00" r="2.0" fill="#0b4a96" />
<circle cx="91.60" cy="586.10" r="2.0" fill="#0b4a96" />
<circle cx="94.20" cy="585.50" r="2.0" fill="#0b4a96" />
<circle cx="91.60" cy="590.00" r="2.0" fill="#0b4a96" />
<circle cx="99.10" cy="577.70" r="2.0" fill="#0b4a96" />
<circle cx="103.00" cy="573.80" r="2.0" fill="#0b4a96" />
<circle cx="106.90" cy="572.20" r="2.0" fill="#0b4a96" />
<circle cx="102.60" cy="559.20" r="2.0" fill="#0b4a96" />
<circle cx="109.10" cy="547.80" r="2.0" fill="#0b4a96" />
<circle cx="107.10" cy="564.00" r="2.0" fill="#0b4a96" />
<circle cx="119.80" cy="520.80" r="2.0" fill="#0b4a96" />
<circle cx="144.60" cy="520.10" r="2.0" fill="#0b4a96" />
<circle cx="133.60" cy="529.50" r="2.0" fill="#0b4a96" />
<circle cx="136.00" cy="534.80" r="2.0" fill="#0b4a96" />
<circle cx="119.20" cy="537.20" r="2.0" fill="#0b4a96" />
<circle cx="117.70" cy="542.70" r="2.0" fill="#0b4a96" />
<circle cx="132.40" cy="543.60" r="2.0" fill="#0b4a96" />
<circle cx="128.10" cy="546.40" r="2.0" fill="#0b4a96" />
<circle cx="109.80" cy="547.40" r="2.0" fill="#0b4a96" />
<circle cx="115.90" cy="547.90" r="2.0" fill="#0b4a96" />
<circle cx="123.20" cy="547.60" r="2.0" fill="#0b4a96" />
<circle cx="125.90" cy="554.90" r="2.0" fill="#0b4a96" />
<circle cx="116.50" cy="556.80" r="2.0" fill="#0b4a96" />
<circle cx="103.10" cy="559.20" r="2.0" fill="#0b4a96" />
<circle cx="108.50" cy="564.10" r="2.0" fill="#0b4a96" />
<circle cx="117.10" cy="564.10" r="2.0" fill="#0b4a96" />
<circle cx="106.70" cy="572.00" r="2.0" fill="#0b4a96" />
<circle cx="102.70" cy="573.60" r="2.0" fill="#0b4a96" />
<circle cx="167.20" cy="569.00" r="2.0" fill="#0b4a96" />
<circle cx="194.50" cy="553.20" r="2.0" fill="#0b4a96" />
<circle cx="202.80" cy="447.00" r="2.0" fill="#0b4a96" />
<circle cx="194.50" cy="452.70" r="2.0" fill="#0b4a96" />
<circle cx="185.30" cy="459.60" r="2.0" fill="#0b4a96" />
<circle cx="181.90" cy="469.00" r="2.0" fill="#0b4a96" />
<circle cx="189.80" cy="471.30" r="2.0" fill="#0b4a96" />
<circle cx="182.00" cy="476.40" r="2.0" fill="#0b4a96" />
<circle cx="176.00" cy="480.10" r="2.0" fill="#0b4a96" />
<circle cx="168.50" cy="491.80" r="2.0" fill="#0b4a96" />
<path d="M58.40,597.80 L63.22,593.88 L68.04,589.95 L72.86,586.01 L77.68,582.07 L82.50,578.11 L87.32,574.13 L92.14,570.13 L96.96,566.10 L101.78,562.00 L106.60,557.82 L111.42,553.50 L116.24,549.00 L121.06,544.32 L125.88,539.50 L130.70,534.57 L135.52,529.55 L140.34,524.48 L145.16,519.38 L149.98,514.25 L154.80,509.10 L159.62,503.93 L164.44,498.76 L169.26,493.58 L174.08,488.39 L178.90,483.20 L183.72,478.01 L188.54,472.81 L193.36,467.61 L198.18,462.40 L203.00,457.20 L203.00,480.00 L198.18,484.00 L193.36,487.99 L188.54,491.99 L183.72,495.99 L178.90,500.00 L174.08,504.01 L169.26,508.02 L164.44,512.04 L159.62,516.07 L154.80,520.10 L149.98,524.15 L145.16,528.22 L140.34,532.32 L135.52,536.45 L130.70,540.63 L125.88,544.90 L121.06,549.28 L116.24,553.80 L111.42,558.50 L106.60,563.38 L101.78,568.40 L96.96,573.50 L92.14,578.67 L87.32,583.87 L82.50,589.09 L77.68,594.33 L72.86,599.59 L68.04,604.85 L63.22,610.12 L58.40,615.40 Z" fill="#999999" fill-opacity="0.4"/>
<line x1="58.40" y1="606.60" x2="203.00" y2="468.60" stroke="#0b4a96" stroke-width="3.5" stroke-linecap="butt"/>
<rect x="51.50" y="439.20" width="157.90" height="184.00" fill="none" stroke="#444444" stroke-width="1.3" />
<line x1="48.90" y1="578.20" x2="51.50" y2="578.20" stroke="#333333" stroke-width="1.0" />
<text x="43.10" y="581.70" font-size="10" text-anchor="end" fill="#333" font-weight="normal" >0.2</text>
<line x1="48.90" y1="509.60" x2="51.50" y2="509.60" stroke="#333333" stroke-width="1.0" />
<text x="43.10" y="513.10" font-size="10" text-anchor="end" fill="#333" font-weight="normal" >0.4</text>
<line x1="48.90" y1="441.00" x2="51.50" y2="441.00" stroke="#333333" stroke-width="1.0" />
<text x="43.10" y="444.50" font-size="10" text-anchor="end" fill="#333" font-weight="normal" >0.6</text>
<line x1="64.50" y1="623.20" x2="64.50" y2="625.80" stroke="#333333" stroke-width="1.0" />
<text x="64.50" y="637.20" font-size="10" text-anchor="middle" fill="#333" font-weight="normal" >0.3</text>
<line x1="95.68" y1="623.20" x2="95.68" y2="625.80" stroke="#333333" stroke-width="1.0" />
<text x="95.68" y="637.20" font-size="10" text-anchor="middle" fill="#333" font-weight="normal" >0.4</text>
<line x1="126.86" y1="623.20" x2="126.86" y2="625.80" stroke="#333333" stroke-width="1.0" />
<text x="126.86" y="637.20" font-size="10" text-anchor="middle" fill="#333" font-weight="normal" >0.5</text>
<line x1="158.04" y1="623.20" x2="158.04" y2="625.80" stroke="#333333" stroke-width="1.0" />
<text x="158.04" y="637.20" font-size="10" text-anchor="middle" fill="#333" font-weight="normal" >0.6</text>
<line x1="189.22" y1="623.20" x2="189.22" y2="625.80" stroke="#333333" stroke-width="1.0" />
<text x="189.22" y="637.20" font-size="10" text-anchor="middle" fill="#333" font-weight="normal" >0.7</text>
<text x="57.40" y="455.80" font-size="11" text-anchor="start" fill="#000" font-weight="normal" >y = 0.87x + -0.13</text>
<text x="57.40" y="469.00" font-size="11" text-anchor="start" fill="#000" font-weight="normal" >R<tspan font-size="6.5" dy="-3.6">2</tspan><tspan dy="3.6"> = 0.81</tspan></text>
<text x="57.40" y="482.20" font-size="11" text-anchor="start" fill="#000" font-weight="normal" ><tspan font-style="italic">p</tspan> = 2.896e-23</text>
<text x="128.05" y="654.00" font-size="11" text-anchor="middle" fill="#000" font-weight="normal" >FROH</text>
<text transform="translate(17.50,536.40) rotate(-90)" font-size="11" text-anchor="middle" fill="#222">Fraction of DEL alleles in homozygous</text>
<text x="244.30" y="422.80" font-size="11.2" text-anchor="start" fill="#000" font-weight="bold" >h</text>
<line x1="302.30" y1="439.40" x2="302.30" y2="622.80" stroke="#ebebeb" stroke-width="1.2" />
<line x1="332.50" y1="439.40" x2="332.50" y2="622.80" stroke="#ebebeb" stroke-width="1.2" />
<line x1="362.70" y1="439.40" x2="362.70" y2="622.80" stroke="#ebebeb" stroke-width="1.2" />
<line x1="392.90" y1="439.40" x2="392.90" y2="622.80" stroke="#ebebeb" stroke-width="1.2" />
<line x1="423.10" y1="439.40" x2="423.10" y2="622.80" stroke="#ebebeb" stroke-width="1.2" />
<line x1="274.50" y1="604.21" x2="427.60" y2="604.21" stroke="#ebebeb" stroke-width="1.2" />
<line x1="274.50" y1="558.27" x2="427.60" y2="558.27" stroke="#ebebeb" stroke-width="1.2" />
<line x1="274.50" y1="512.33" x2="427.60" y2="512.33" stroke="#ebebeb" stroke-width="1.2" />
<line x1="274.50" y1="466.39" x2="427.60" y2="466.39" stroke="#ebebeb" stroke-width="1.2" />
<line x1="287.20" y1="439.40" x2="287.20" y2="622.80" stroke="#ebebeb" stroke-width="1.2" />
<line x1="317.40" y1="439.40" x2="317.40" y2="622.80" stroke="#ebebeb" stroke-width="1.2" />
<line x1="347.60" y1="439.40" x2="347.60" y2="622.80" stroke="#ebebeb" stroke-width="1.2" />
<line x1="377.80" y1="439.40" x2="377.80" y2="622.80" stroke="#ebebeb" stroke-width="1.2" />
<line x1="408.00" y1="439.40" x2="408.00" y2="622.80" stroke="#ebebeb" stroke-width="1.2" />
<line x1="274.50" y1="581.24" x2="427.60" y2="581.24" stroke="#ebebeb" stroke-width="1.2" />
<line x1="274.50" y1="535.30" x2="427.60" y2="535.30" stroke="#ebebeb" stroke-width="1.2" />
<line x1="274.50" y1="489.36" x2="427.60" y2="489.36" stroke="#ebebeb" stroke-width="1.2" />
<line x1="274.50" y1="443.42" x2="427.60" y2="443.42" stroke="#ebebeb" stroke-width="1.2" />
<circle cx="281.10" cy="613.40" r="2.0" fill="#0b4a96" />
<circle cx="299.30" cy="603.00" r="2.0" fill="#0b4a96" />
<circle cx="299.70" cy="607.50" r="2.0" fill="#0b4a96" />
<circle cx="320.10" cy="606.00" r="2.0" fill="#0b4a96" />
<circle cx="324.00" cy="606.00" r="2.0" fill="#0b4a96" />
<circle cx="293.50" cy="578.70" r="2.0" fill="#0b4a96" />
<circle cx="296.30" cy="575.70" r="2.0" fill="#0b4a96" />
<circle cx="295.80" cy="583.90" r="2.0" fill="#0b4a96" />
<circle cx="299.70" cy="582.20" r="2.0" fill="#0b4a96" />
<circle cx="296.70" cy="589.10" r="2.0" fill="#0b4a96" />
<circle cx="305.20" cy="591.30" r="2.0" fill="#0b4a96" />
<circle cx="304.90" cy="571.60" r="2.0" fill="#0b4a96" />
<circle cx="300.60" cy="557.50" r="2.0" fill="#0b4a96" />
<circle cx="313.00" cy="550.40" r="2.0" fill="#0b4a96" />
<circle cx="315.60" cy="552.60" r="2.0" fill="#0b4a96" />
<circle cx="314.30" cy="556.20" r="2.0" fill="#0b4a96" />
<circle cx="311.40" cy="560.50" r="2.0" fill="#0b4a96" />
<circle cx="313.00" cy="574.70" r="2.0" fill="#0b4a96" />
<circle cx="324.00" cy="580.00" r="2.0" fill="#0b4a96" />
<circle cx="313.60" cy="590.60" r="2.0" fill="#0b4a96" />
<circle cx="315.60" cy="589.70" r="2.0" fill="#0b4a96" />
<circle cx="314.50" cy="594.30" r="2.0" fill="#0b4a96" />
<circle cx="328.30" cy="563.80" r="2.0" fill="#0b4a96" />
<circle cx="330.10" cy="571.40" r="2.0" fill="#0b4a96" />
<circle cx="333.50" cy="602.00" r="2.0" fill="#0b4a96" />
<circle cx="327.90" cy="535.30" r="2.0" fill="#0b4a96" />
<circle cx="337.00" cy="536.90" r="2.0" fill="#0b4a96" />
<circle cx="352.70" cy="538.20" r="2.0" fill="#0b4a96" />
<circle cx="337.70" cy="547.30" r="2.0" fill="#0b4a96" />
<circle cx="339.90" cy="546.00" r="2.0" fill="#0b4a96" />
<circle cx="346.40" cy="546.00" r="2.0" fill="#0b4a96" />
<circle cx="349.00" cy="545.00" r="2.0" fill="#0b4a96" />
<circle cx="337.70" cy="553.50" r="2.0" fill="#0b4a96" />
<circle cx="364.60" cy="543.40" r="2.0" fill="#0b4a96" />
<circle cx="328.20" cy="563.50" r="2.0" fill="#0b4a96" />
<circle cx="330.20" cy="571.70" r="2.0" fill="#0b4a96" />
<circle cx="338.60" cy="564.80" r="2.0" fill="#0b4a96" />
<circle cx="343.80" cy="564.40" r="2.0" fill="#0b4a96" />
<circle cx="343.80" cy="566.10" r="2.0" fill="#0b4a96" />
<circle cx="338.60" cy="568.30" r="2.0" fill="#0b4a96" />
<circle cx="340.30" cy="572.60" r="2.0" fill="#0b4a96" />
<circle cx="342.90" cy="572.00" r="2.0" fill="#0b4a96" />
<circle cx="347.10" cy="575.20" r="2.0" fill="#0b4a96" />
<circle cx="354.20" cy="571.30" r="2.0" fill="#0b4a96" />
<circle cx="356.20" cy="570.00" r="2.0" fill="#0b4a96" />
<circle cx="347.10" cy="584.70" r="2.0" fill="#0b4a96" />
<circle cx="334.70" cy="601.60" r="2.0" fill="#0b4a96" />
<circle cx="420.90" cy="447.30" r="2.0" fill="#0b4a96" />
<circle cx="400.70" cy="479.30" r="2.0" fill="#0b4a96" />
<circle cx="394.90" cy="496.00" r="2.0" fill="#0b4a96" />
<circle cx="412.80" cy="491.40" r="2.0" fill="#0b4a96" />
<circle cx="407.90" cy="502.30" r="2.0" fill="#0b4a96" />
<circle cx="400.80" cy="505.40" r="2.0" fill="#0b4a96" />
<circle cx="412.80" cy="527.60" r="2.0" fill="#0b4a96" />
<circle cx="387.70" cy="534.10" r="2.0" fill="#0b4a96" />
<circle cx="386.80" cy="558.80" r="2.0" fill="#0b4a96" />
<circle cx="337.00" cy="611.90" r="2.0" fill="#0b4a96" />
<path d="M281.60,597.10 L286.24,594.06 L290.88,591.01 L295.52,587.96 L300.16,584.89 L304.80,581.81 L309.44,578.71 L314.08,575.59 L318.72,572.43 L323.36,569.21 L328.00,565.92 L332.64,562.53 L337.28,559.00 L341.92,555.30 L346.56,551.41 L351.20,547.39 L355.84,543.28 L360.48,539.12 L365.12,534.91 L369.76,530.68 L374.40,526.44 L379.04,522.18 L383.68,517.91 L388.32,513.63 L392.96,509.35 L397.60,505.07 L402.24,500.78 L406.88,496.49 L411.52,492.19 L416.16,487.90 L420.80,483.60 L420.80,509.60 L416.16,512.50 L411.52,515.41 L406.88,518.31 L402.24,521.22 L397.60,524.13 L392.96,527.05 L388.32,529.97 L383.68,532.89 L379.04,535.82 L374.40,538.76 L369.76,541.72 L365.12,544.69 L360.48,547.68 L355.84,550.72 L351.20,553.81 L346.56,556.99 L341.92,560.30 L337.28,563.80 L332.64,567.47 L328.00,571.28 L323.36,575.19 L318.72,579.17 L314.08,583.21 L309.44,587.29 L304.80,591.39 L300.16,595.51 L295.52,599.64 L290.88,603.79 L286.24,607.94 L281.60,612.10 Z" fill="#999999" fill-opacity="0.4"/>
<line x1="281.60" y1="604.60" x2="420.80" y2="496.60" stroke="#0b4a96" stroke-width="3.5" stroke-linecap="butt"/>
<rect x="274.50" y="439.40" width="153.10" height="183.40" fill="none" stroke="#444444" stroke-width="1.3" />
<line x1="271.90" y1="581.24" x2="274.50" y2="581.24" stroke="#333333" stroke-width="1.0" />
<text x="267.90" y="584.74" font-size="10" text-anchor="end" fill="#333" font-weight="normal" >0.2</text>
<line x1="271.90" y1="535.30" x2="274.50" y2="535.30" stroke="#333333" stroke-width="1.0" />
<text x="267.90" y="538.80" font-size="10" text-anchor="end" fill="#333" font-weight="normal" >0.4</text>
<line x1="271.90" y1="489.36" x2="274.50" y2="489.36" stroke="#333333" stroke-width="1.0" />
<text x="267.90" y="492.86" font-size="10" text-anchor="end" fill="#333" font-weight="normal" >0.6</text>
<line x1="271.90" y1="443.42" x2="274.50" y2="443.42" stroke="#333333" stroke-width="1.0" />
<text x="267.90" y="446.92" font-size="10" text-anchor="end" fill="#333" font-weight="normal" >0.8</text>
<line x1="287.20" y1="622.80" x2="287.20" y2="625.40" stroke="#333333" stroke-width="1.0" />
<text x="287.20" y="637.20" font-size="10" text-anchor="middle" fill="#333" font-weight="normal" >0.3</text>
<line x1="317.40" y1="622.80" x2="317.40" y2="625.40" stroke="#333333" stroke-width="1.0" />
<text x="317.40" y="637.20" font-size="10" text-anchor="middle" fill="#333" font-weight="normal" >0.4</text>
<line x1="347.60" y1="622.80" x2="347.60" y2="625.40" stroke="#333333" stroke-width="1.0" />
<text x="347.60" y="637.20" font-size="10" text-anchor="middle" fill="#333" font-weight="normal" >0.5</text>
<line x1="377.80" y1="622.80" x2="377.80" y2="625.40" stroke="#333333" stroke-width="1.0" />
<text x="377.80" y="637.20" font-size="10" text-anchor="middle" fill="#333" font-weight="normal" >0.6</text>
<line x1="408.00" y1="622.80" x2="408.00" y2="625.40" stroke="#333333" stroke-width="1.0" />
<text x="408.00" y="637.20" font-size="10" text-anchor="middle" fill="#333" font-weight="normal" >0.7</text>
<text x="280.60" y="456.80" font-size="11" text-anchor="start" fill="#000" font-weight="normal" >y = 1.03x + -0.2</text>
<text x="280.60" y="470.00" font-size="11" text-anchor="start" fill="#000" font-weight="normal" >R<tspan font-size="6.5" dy="-3.6">2</tspan><tspan dy="3.6"> = 0.66</tspan></text>
<text x="280.60" y="483.20" font-size="11" text-anchor="start" fill="#000" font-weight="normal" ><tspan font-style="italic">p</tspan> = 9.336e-16</text>
<text x="348.55" y="654.00" font-size="11" text-anchor="middle" fill="#000" font-weight="normal" >FROH</text>
<text transform="translate(243.50,533.50) rotate(-90)" font-size="11" text-anchor="middle" fill="#222">Fraction of LOF alleles in homozygous</text>
<text x="473.60" y="423.20" font-size="11.2" text-anchor="start" fill="#000" font-weight="bold" >i</text>
<line x1="497.40" y1="583.05" x2="676.00" y2="583.05" stroke="#cccccc" stroke-width="1.5" stroke-dasharray="7.7 7.86"/>
<line x1="497.40" y1="550.50" x2="676.00" y2="550.50" stroke="#cccccc" stroke-width="1.5" stroke-dasharray="7.7 7.86"/>
<line x1="497.40" y1="517.95" x2="676.00" y2="517.95" stroke="#cccccc" stroke-width="1.5" stroke-dasharray="7.7 7.86"/>
<line x1="497.40" y1="485.40" x2="676.00" y2="485.40" stroke="#cccccc" stroke-width="1.5" stroke-dasharray="7.7 7.86"/>
<line x1="497.40" y1="438.60" x2="497.40" y2="616.40" stroke="#000" stroke-width="1.3" />
<line x1="496.75" y1="615.80" x2="680.60" y2="615.80" stroke="#000" stroke-width="1.3" />
<line x1="497.40" y1="615.80" x2="497.40" y2="618.80" stroke="#000" stroke-width="1.3" />
<line x1="494.20" y1="583.05" x2="497.40" y2="583.05" stroke="#000" stroke-width="1.3" />
<text x="492.80" y="586.55" font-size="10" text-anchor="end" fill="#222" font-weight="normal" >0.25</text>
<line x1="494.20" y1="550.50" x2="497.40" y2="550.50" stroke="#000" stroke-width="1.3" />
<text x="492.80" y="554.00" font-size="10" text-anchor="end" fill="#222" font-weight="normal" >0.50</text>
<line x1="494.20" y1="517.95" x2="497.40" y2="517.95" stroke="#000" stroke-width="1.3" />
<text x="492.80" y="521.45" font-size="10" text-anchor="end" fill="#222" font-weight="normal" >0.75</text>
<line x1="494.20" y1="485.40" x2="497.40" y2="485.40" stroke="#000" stroke-width="1.3" />
<text x="492.80" y="488.90" font-size="10" text-anchor="end" fill="#222" font-weight="normal" >1.00</text>
<line x1="530.60" y1="615.80" x2="530.60" y2="618.80" stroke="#000" stroke-width="1.3" />
<text x="532.30" y="639.40" font-size="10.6" text-anchor="middle" fill="#222" font-weight="normal" >YN</text>
<line x1="591.00" y1="615.80" x2="591.00" y2="618.80" stroke="#000" stroke-width="1.3" />
<text x="592.30" y="639.40" font-size="10.6" text-anchor="middle" fill="#222" font-weight="normal" >VN</text>
<line x1="650.60" y1="615.80" x2="650.60" y2="618.80" stroke="#000" stroke-width="1.3" />
<text x="651.00" y="639.40" font-size="10.6" text-anchor="middle" fill="#222" font-weight="normal" >SC</text>
<text transform="translate(464.30,531.10) rotate(-90)" font-size="11" text-anchor="middle" fill="#222">Fraction of LOF alleles in homozygous</text>
<circle cx="582.20" cy="441.60" r="4.0" fill="#f4525f" />
<circle cx="582.20" cy="455.00" r="4.0" fill="#4d4d4d" />
<text x="592.30" y="444.90" font-size="9.3" text-anchor="start" fill="#222" font-weight="normal" >In ROH region</text>
<text x="592.30" y="458.30" font-size="9.3" text-anchor="start" fill="#222" font-weight="normal" >Outside ROH region</text>
<text x="509.00" y="475.20" font-size="9.4" text-anchor="start" fill="#222" font-weight="normal" ><tspan font-style="italic">p</tspan> = 3.60e-06</text>
<text x="572.40" y="475.20" font-size="9.4" text-anchor="start" fill="#222" font-weight="normal" ><tspan font-style="italic">p</tspan> = 0.0159</text>
<text x="626.60" y="475.20" font-size="9.4" text-anchor="start" fill="#222" font-weight="normal" ><tspan font-style="italic">p</tspan> = 1.20e-10</text>
<line x1="515.05" y1="509.90" x2="515.05" y2="528.50" stroke="#262626" stroke-width="1.6" />
<rect x="505.80" y="485.30" width="18.50" height="23.90" fill="#1f77b4" stroke="#333333" stroke-width="1.4" />
<line x1="506.50" y1="501.60" x2="523.60" y2="501.60" stroke="#333333" stroke-width="2.6" />
<line x1="575.45" y1="485.80" x2="575.45" y2="494.90" stroke="#262626" stroke-width="1.6" />
<line x1="575.45" y1="505.70" x2="575.45" y2="508.70" stroke="#262626" stroke-width="1.6" />
<rect x="566.70" y="495.60" width="17.50" height="9.40" fill="#ff7f0e" stroke="#333333" stroke-width="1.4" />
<line x1="567.40" y1="501.60" x2="583.50" y2="501.60" stroke="#333333" stroke-width="2.6" />
<line x1="635.70" y1="504.70" x2="635.70" y2="528.50" stroke="#262626" stroke-width="1.6" />
<rect x="626.70" y="485.30" width="18.00" height="18.70" fill="#2ca02c" stroke="#333333" stroke-width="1.4" />
<line x1="627.40" y1="492.50" x2="644.00" y2="492.50" stroke="#333333" stroke-width="2.6" />
<line x1="545.35" y1="572.00" x2="545.35" y2="582.20" stroke="#262626" stroke-width="1.6" />
<line x1="545.35" y1="599.80" x2="545.35" y2="609.70" stroke="#262626" stroke-width="1.6" />
<rect x="536.40" y="582.90" width="17.90" height="16.20" fill="#9a9a9a" stroke="#333333" stroke-width="1.4" />
<line x1="537.10" y1="593.90" x2="553.60" y2="593.90" stroke="#333333" stroke-width="2.6" />
<line x1="605.55" y1="591.40" x2="605.55" y2="594.00" stroke="#262626" stroke-width="1.6" />
<line x1="605.55" y1="601.60" x2="605.55" y2="605.30" stroke="#262626" stroke-width="1.6" />
<rect x="596.40" y="594.70" width="18.30" height="6.20" fill="#9a9a9a" stroke="#333333" stroke-width="1.4" />
<line x1="597.10" y1="597.00" x2="614.00" y2="597.00" stroke="#333333" stroke-width="3.2" />
<line x1="665.70" y1="572.00" x2="665.70" y2="587.40" stroke="#262626" stroke-width="1.6" />
<line x1="665.70" y1="603.40" x2="665.70" y2="608.90" stroke="#262626" stroke-width="1.6" />
<rect x="656.90" y="588.10" width="17.60" height="14.60" fill="#9a9a9a" stroke="#333333" stroke-width="1.4" />
<line x1="657.60" y1="597.20" x2="673.80" y2="597.20" stroke="#333333" stroke-width="2.6" />
<circle cx="509.40" cy="491.00" r="1.35" fill="#f0404e" fill-opacity="0.9"/>
<circle cx="513.60" cy="490.60" r="1.35" fill="#f0404e" fill-opacity="0.9"/>
<circle cx="514.50" cy="497.20" r="1.35" fill="#f0404e" fill-opacity="0.9"/>
<circle cx="519.50" cy="497.40" r="1.35" fill="#f0404e" fill-opacity="0.9"/>
<circle cx="521.00" cy="496.00" r="1.35" fill="#f0404e" fill-opacity="0.9"/>
<circle cx="511.00" cy="485.00" r="1.35" fill="#f0404e" fill-opacity="0.9"/>
<circle cx="512.60" cy="485.00" r="1.35" fill="#f0404e" fill-opacity="0.9"/>
<circle cx="514.20" cy="485.00" r="1.35" fill="#f0404e" fill-opacity="0.9"/>
<circle cx="515.80" cy="485.00" r="1.35" fill="#f0404e" fill-opacity="0.9"/>
<circle cx="517.40" cy="485.00" r="1.35" fill="#f0404e" fill-opacity="0.9"/>
<circle cx="519.00" cy="485.00" r="1.35" fill="#f0404e" fill-opacity="0.9"/>
<circle cx="520.80" cy="485.30" r="1.35" fill="#f0404e" fill-opacity="0.9"/>
<circle cx="510.60" cy="501.60" r="1.35" fill="#f0404e" fill-opacity="0.9"/>
<circle cx="513.00" cy="501.50" r="1.35" fill="#f0404e" fill-opacity="0.9"/>
<circle cx="516.30" cy="501.50" r="1.35" fill="#f0404e" fill-opacity="0.9"/>
<circle cx="520.40" cy="501.70" r="1.35" fill="#f0404e" fill-opacity="0.9"/>
<circle cx="511.60" cy="504.00" r="1.35" fill="#f0404e" fill-opacity="0.9"/>
<circle cx="513.60" cy="507.00" r="1.35" fill="#f0404e" fill-opacity="0.9"/>
<circle cx="517.00" cy="507.00" r="1.35" fill="#f0404e" fill-opacity="0.9"/>
<circle cx="519.70" cy="509.00" r="1.35" fill="#f0404e" fill-opacity="0.9"/>
<circle cx="512.60" cy="511.40" r="1.35" fill="#f0404e" fill-opacity="0.9"/>
<circle cx="517.00" cy="511.50" r="1.35" fill="#f0404e" fill-opacity="0.9"/>
<circle cx="518.60" cy="514.60" r="1.35" fill="#f0404e" fill-opacity="0.9"/>
<circle cx="518.80" cy="518.20" r="1.35" fill="#f0404e" fill-opacity="0.9"/>
<circle cx="518.60" cy="522.70" r="1.35" fill="#f0404e" fill-opacity="0.9"/>
<circle cx="510.80" cy="524.60" r="1.35" fill="#f0404e" fill-opacity="0.9"/>
<circle cx="510.60" cy="528.80" r="1.35" fill="#f0404e" fill-opacity="0.9"/>
<circle cx="517.40" cy="560.00" r="1.35" fill="#f0404e" fill-opacity="0.9"/>
<circle cx="517.40" cy="563.60" r="1.35" fill="#f0404e" fill-opacity="0.9"/>
<circle cx="571.40" cy="485.30" r="1.35" fill="#f0404e" fill-opacity="0.9"/>
<circle cx="572.20" cy="495.50" r="1.35" fill="#f0404e" fill-opacity="0.9"/>
<circle cx="577.60" cy="501.80" r="1.35" fill="#f0404e" fill-opacity="0.9"/>
<circle cx="571.50" cy="505.20" r="1.35" fill="#f0404e" fill-opacity="0.9"/>
<circle cx="578.20" cy="509.00" r="1.35" fill="#f0404e" fill-opacity="0.9"/>
<circle cx="630.00" cy="485.00" r="1.35" fill="#f0404e" fill-opacity="0.9"/>
<circle cx="631.60" cy="485.00" r="1.35" fill="#f0404e" fill-opacity="0.9"/>
<circle cx="633.20" cy="485.00" r="1.35" fill="#f0404e" fill-opacity="0.9"/>
<circle cx="634.80" cy="485.00" r="1.35" fill="#f0404e" fill-opacity="0.9"/>
<circle cx="636.40" cy="485.00" r="1.35" fill="#f0404e" fill-opacity="0.9"/>
<circle cx="638.00" cy="485.00" r="1.35" fill="#f0404e" fill-opacity="0.9"/>
<circle cx="641.30" cy="485.30" r="1.35" fill="#f0404e" fill-opacity="0.9"/>
<circle cx="636.60" cy="492.50" r="1.35" fill="#f0404e" fill-opacity="0.9"/>
<circle cx="636.60" cy="496.30" r="1.35" fill="#f0404e" fill-opacity="0.9"/>
<circle cx="638.80" cy="497.50" r="1.35" fill="#f0404e" fill-opacity="0.9"/>
<circle cx="631.00" cy="500.00" r="1.35" fill="#f0404e" fill-opacity="0.9"/>
<circle cx="635.60" cy="500.00" r="1.35" fill="#f0404e" fill-opacity="0.9"/>
<circle cx="633.60" cy="504.20" r="1.35" fill="#f0404e" fill-opacity="0.9"/>
<circle cx="636.30" cy="507.20" r="1.35" fill="#f0404e" fill-opacity="0.9"/>
<circle cx="640.00" cy="511.50" r="1.35" fill="#f0404e" fill-opacity="0.9"/>
<circle cx="630.80" cy="514.40" r="1.35" fill="#f0404e" fill-opacity="0.9"/>
<circle cx="641.20" cy="524.50" r="1.35" fill="#f0404e" fill-opacity="0.9"/>
<circle cx="641.00" cy="528.80" r="1.35" fill="#f0404e" fill-opacity="0.9"/>
<circle cx="541.50" cy="536.90" r="1.2" fill="#222" />
<circle cx="545.90" cy="541.20" r="1.2" fill="#222" />
<circle cx="541.70" cy="578.50" r="1.2" fill="#222" />
<circle cx="550.60" cy="576.70" r="1.2" fill="#222" />
<circle cx="543.90" cy="572.20" r="1.2" fill="#222" />
<circle cx="540.00" cy="589.70" r="1.2" fill="#222" />
<circle cx="545.60" cy="589.70" r="1.2" fill="#222" />
<circle cx="547.80" cy="586.50" r="1.2" fill="#222" />
<circle cx="551.20" cy="592.00" r="1.2" fill="#222" />
<circle cx="540.00" cy="596.50" r="1.2" fill="#222" />
<circle cx="542.40" cy="597.50" r="1.2" fill="#222" />
<circle cx="549.70" cy="604.50" r="1.2" fill="#222" />
<circle cx="548.00" cy="606.00" r="1.2" fill="#222" />
<circle cx="542.00" cy="610.30" r="1.2" fill="#222" />
<circle cx="546.00" cy="609.70" r="1.2" fill="#222" />
<circle cx="544.00" cy="593.50" r="1.2" fill="#222" />
<circle cx="547.00" cy="594.00" r="1.2" fill="#222" />
<circle cx="606.30" cy="592.00" r="1.2" fill="#222" />
<circle cx="610.00" cy="595.70" r="1.2" fill="#222" />
<circle cx="601.40" cy="606.00" r="1.2" fill="#222" />
<circle cx="604.50" cy="599.00" r="1.2" fill="#222" />
<circle cx="667.50" cy="572.30" r="1.2" fill="#222" />
<circle cx="667.00" cy="576.30" r="1.2" fill="#222" />
<circle cx="660.00" cy="590.00" r="1.2" fill="#222" />
<circle cx="669.00" cy="594.00" r="1.2" fill="#222" />
<circle cx="667.50" cy="597.00" r="1.2" fill="#222" />
<circle cx="668.50" cy="601.60" r="1.2" fill="#222" />
<circle cx="660.70" cy="604.70" r="1.2" fill="#222" />
<circle cx="664.60" cy="604.00" r="1.2" fill="#222" />
<circle cx="667.00" cy="608.60" r="1.2" fill="#222" />
</svg>
</body></html>
